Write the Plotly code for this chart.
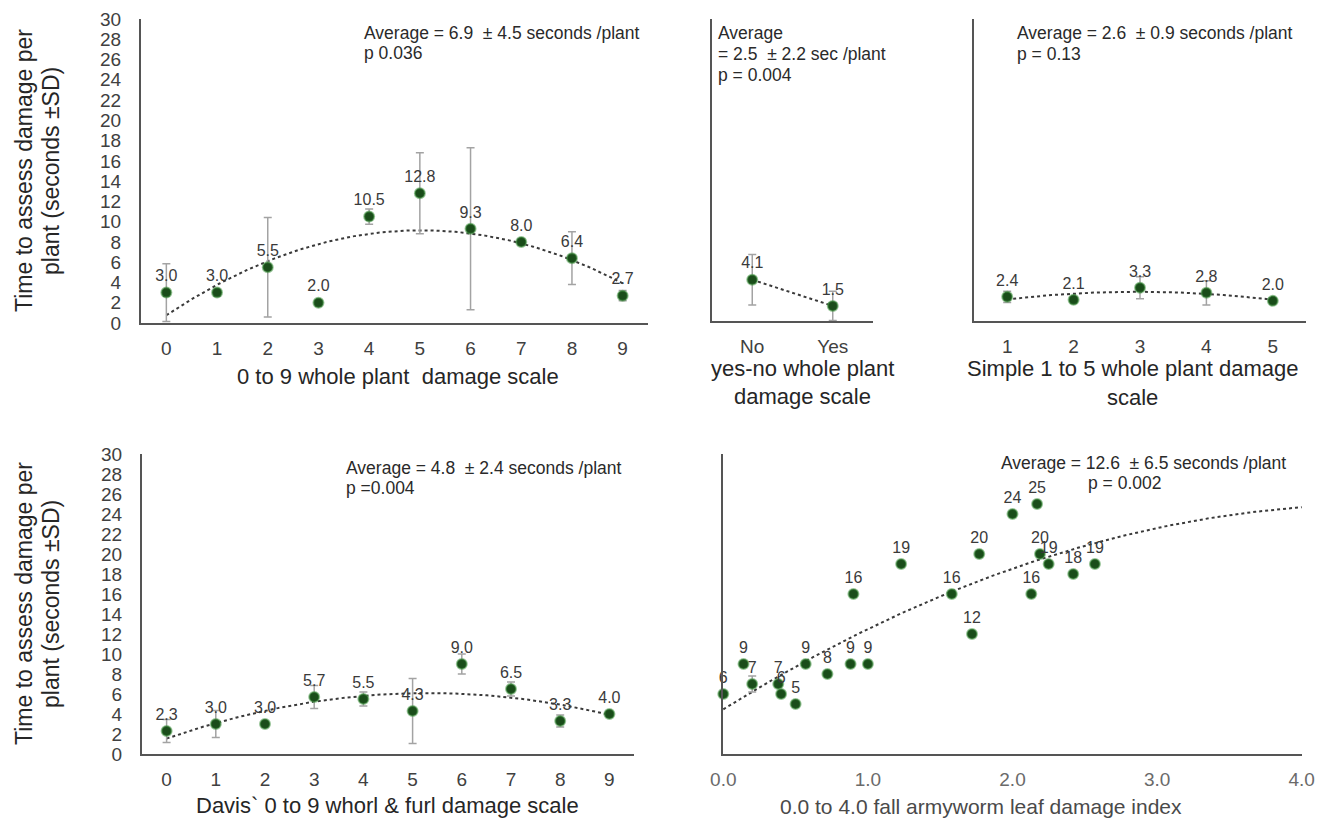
import numpy as np
import plotly.graph_objects as go

# page body adds an 8 px margin, so the figure is drawn 8 px in from the corner
PAGE_W, PAGE_H, OFF = 1325, 820, 8
W, H = PAGE_W - OFF, PAGE_H - OFF

# ---------------- data ----------------
# Panel A: 0 to 9 whole plant damage scale
a_scale = [0, 1, 2, 3, 4, 5, 6, 7, 8, 9]
a_mean = [3.0, 3.0, 5.5, 2.0, 10.5, 12.8, 9.3, 8.0, 6.4, 2.7]
a_sd = [2.85, 0.3, 4.9, 0.2, 0.75, 4.0, 8.0, 0.3, 2.6, 0.5]

# Panel B: yes-no whole plant damage scale
b_cats = ["No", "Yes"]
b_mean = [4.1, 1.5]
b_sd = [2.5, 1.45]

# Panel C: simple 1 to 5 whole plant damage scale
c_scale = [1, 2, 3, 4, 5]
c_mean = [2.4, 2.1, 3.3, 2.8, 2.0]
c_sd = [0.55, 0.2, 1.1, 1.2, 0.1]

# Panel D: Davis 0 to 9 whorl & furl damage scale
d_scale = [0, 1, 2, 3, 4, 5, 6, 7, 8, 9]
d_mean = [2.3, 3.0, 3.0, 5.7, 5.5, 4.3, 9.0, 6.5, 3.3, 4.0]
d_sd = [1.15, 1.35, 0.2, 1.15, 0.7, 3.25, 1.0, 0.7, 0.6, 0.2]

# Panel E: 0.0 to 4.0 fall armyworm leaf damage index
e_index = [0.0, 0.14, 0.20, 0.38, 0.40, 0.50, 0.57, 0.72, 0.88, 1.00, 0.90,
           1.23, 1.58, 1.72, 1.77, 2.00, 2.17, 2.19, 2.25, 2.13, 2.42, 2.57]
e_time = [6, 9, 7, 7, 6, 5, 9, 8, 9, 9, 16,
          19, 16, 12, 20, 24, 25, 20, 19, 16, 18, 19]
e_sd = [0, 0, 0.8, 0, 0, 0, 0, 0, 0, 0, 0,
        0, 0, 0, 0, 0, 0, 0, 0, 0, 0, 0]

y_ticks = list(range(0, 31, 2))
e_ticks = [0.0, 1.0, 2.0, 3.0, 4.0]

notes = {
    "a": ["Average = 6.9  \u00b1 4.5 seconds /plant", "p 0.036"],
    "b": ["Average", "= 2.5  \u00b1 2.2 sec /plant", "p = 0.004"],
    "c": ["Average = 2.6  \u00b1 0.9 seconds /plant", "p = 0.13"],
    "d": ["Average = 4.8  \u00b1 2.4 seconds /plant", "p =0.004"],
    "e": ["Average = 12.6  \u00b1 6.5 seconds /plant", "p = 0.002"],
}
y_title_lines = ["Time to assess damage per", "plant (seconds \u00b1SD)"]
x_titles = {
    "a": ["0 to 9 whole plant  damage scale"],
    "b": ["yes-no whole plant", "damage scale"],
    "c": ["Simple 1 to 5 whole plant damage", "scale"],
    "d": ["Davis` 0 to 9 whorl & furl damage scale"],
    "e": ["0.0 to 4.0 fall armyworm leaf damage index"],
}

# ---------------- style ----------------
FONT = "Liberation Sans, Arial, Helvetica, sans-serif"
GREEN = "#1a4d1a"
GREEN_EDGE = "rgba(70,150,70,0.55)"
ERR = "#a3a3a3"
TREND = "#3a3a3a"
AXIS = "#555555"
TXT = "#3a3a3a"


def fx(p):
    return (p - OFF) / W


def fy(p):
    return 1 - (p - OFF) / H


# page-pixel boxes: (left, right), (bottom, top)
boxes = {
    "a": ((141, 648), (323, 19)),
    "b": ((712, 873), (321, 19)),
    "c": ((974, 1306), (321, 19)),
    "d": ((142, 634), (754, 454)),
    "e": ((723, 1302), (754, 454)),
}
axis_ids = {"a": "", "b": "2", "c": "3", "d": "4", "e": "5"}

fig = go.Figure()


def add_panel(key, x, y, sd, deg, fit_range, fmt):
    ax = axis_ids[key]
    xa, ya = "x" + ax, "y" + ax
    coef = np.polyfit(np.array(x, float), np.array(y, float), deg)
    gx = np.linspace(fit_range[0], fit_range[1], 200)
    gy = np.polyval(coef, gx)
    fig.add_trace(go.Scatter(x=gx, y=gy, mode="lines", xaxis=xa, yaxis=ya,
                             line=dict(color=TREND, width=2, dash="dot"),
                             hoverinfo="skip", showlegend=False))
    fig.add_trace(go.Scatter(
        x=x, y=y, mode="markers+text", xaxis=xa, yaxis=ya,
        marker=dict(color=GREEN, size=10, line=dict(color=GREEN_EDGE, width=2)),
        error_y=dict(type="data", array=sd, color=ERR, thickness=1.5, width=4),
        texttemplate=fmt, textposition="top center",
        textfont=dict(family=FONT, size=16, color=TXT),
        cliponaxis=False, showlegend=False))


add_panel("a", a_scale, a_mean, a_sd, 2, (0, 9), "%{y:.1f}")
add_panel("b", [0, 1], b_mean, b_sd, 1, (0, 1), "%{y:.1f}")
add_panel("c", c_scale, c_mean, c_sd, 2, (1, 5), "%{y:.1f}")
add_panel("d", d_scale, d_mean, d_sd, 2, (0, 9), "%{y:.1f}")
add_panel("e", e_index, e_time, e_sd, 2, (0, 4), "%{y:.0f}")

xranges = {"a": [-0.5, 9.5], "b": [-0.5, 1.5], "c": [0.5, 5.5],
           "d": [-0.5, 9.5], "e": [-0.002, 4.002]}
xtickvals = {"a": a_scale, "b": [0, 1], "c": c_scale, "d": d_scale, "e": e_ticks}
xticktext = {"a": [str(v) for v in a_scale], "b": b_cats,
             "c": [str(v) for v in c_scale], "d": [str(v) for v in d_scale],
             "e": ["%.1f" % v for v in e_ticks]}

layout = dict(width=W, height=H, margin=dict(l=0, r=0, t=0, b=0, pad=0,
                                             autoexpand=False),
              paper_bgcolor="white", plot_bgcolor="white",
              font=dict(family=FONT, color=TXT), showlegend=False)

for key, ((l, r), (b, t)) in boxes.items():
    ax = axis_ids[key]
    xname = "xaxis" + ax
    yname = "yaxis" + ax
    tickcol = "#6a6a6a" if key == "e" else "#404040"
    layout[xname] = dict(domain=[fx(l), fx(r)], anchor="y" + ax,
                         range=xranges[key], tickmode="array",
                         tickvals=xtickvals[key], ticktext=xticktext[key],
                         showline=True, linecolor=AXIS, linewidth=2,
                         ticks="", showgrid=False, zeroline=False,
                         automargin=False, ticklabelstandoff=7,
                         tickfont=dict(family=FONT, size=19, color=tickcol))
    layout[yname] = dict(domain=[fy(b), fy(t)], anchor="x" + ax,
                         range=[0, 30], tickmode="array", tickvals=y_ticks,
                         showline=True, linecolor=AXIS, linewidth=2,
                         ticks="", showgrid=False, zeroline=False,
                         automargin=False,
                         showticklabels=key in ("a", "d"),
                         ticklabelstandoff=14,
                         tickfont=dict(family=FONT, size=19, color="#404040"))

annotations = []


def note(text, px, py, size=17.5, anchor="left", color="#2a2a2a", angle=0):
    annotations.append(dict(text=text, x=fx(px), y=fy(py), xref="paper",
                            yref="paper", showarrow=False, xanchor=anchor,
                            yanchor="middle", textangle=angle,
                            font=dict(family=FONT, size=size, color=color)))


note_pos = {
    "a": (362, [33, 53]),
    "b": (716, [33, 54, 75]),
    "c": (1015, [33, 54]),
    "d": (344, [468, 488]),
    "e": (999, [463, 483]),
}
for key, (px, ys) in note_pos.items():
    for i, line in enumerate(notes[key]):
        x0 = px
        if key == "e" and i == 1:
            x0 = 1086
        note(line, x0, ys[i])

# x-axis titles (one annotation per line)
title_pos = {
    "a": (398, [376], 22, "#262626"),
    "b": (803, [369, 396], 22, "#262626"),
    "c": (1132, [369, 397], 22, "#262626"),
    "d": (387, [805], 22, "#262626"),
    "e": (981, [806], 21, "#4a4a4a"),
}
for key, (px, ys, size, col) in title_pos.items():
    for i, line in enumerate(x_titles[key]):
        note(line, px, ys[i], size=size, anchor="center", color=col)

# y-axis titles (rotated, one annotation per line)
for cy in (171, 604):
    note(y_title_lines[0], 24, cy, size=23, anchor="center", color="#262626",
         angle=-90)
    note(y_title_lines[1], 51, cy, size=23, anchor="center", color="#262626",
         angle=-90)

layout["annotations"] = annotations
fig.update_layout(**layout)
fig.write_html("out.html")
